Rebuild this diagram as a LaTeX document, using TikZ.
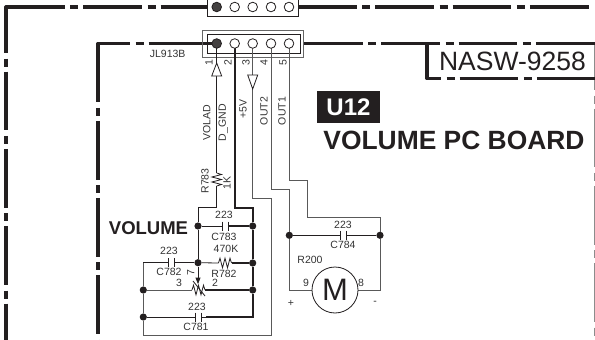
\documentclass[tikz,border=0pt]{standalone}
\usepackage{fontspec}
\setmainfont{Liberation Sans}
\definecolor{ink}{HTML}{231F20}
\tikzset{
  frameline/.style={ink, line width=3.2pt, dash pattern=on 58.7pt off 5.6pt on 8pt off 5pt},
  cornerline/.style={ink, line width=3.2pt, line join=round},
  wire/.style={ink, line width=0.8pt},
  graywire/.style={black!65, line width=1pt},
  powerwire/.style={ink, line width=2.2pt},
  pinhole/.style={circle, draw=ink, fill=white, line width=0.8pt, minimum size=9.6pt, inner sep=0pt},
  pinfull/.style={circle, draw=ink, fill=ink!85, line width=0.8pt, minimum size=9.6pt, inner sep=0pt},
  dot/.style={circle, fill=ink, minimum size=7.2pt, inner sep=0pt},
  small/.style={text=black!80, font=\fontsize{10.5}{12}\selectfont, inner sep=0pt},
  big/.style={text=ink, font=\fontsize{18.5}{20}\selectfont\bfseries, inner sep=0pt},
  reshoriz/.pic={\draw[wire] (0,0) -- (1.5,-4.8) -- (4,4.8) -- (6.5,-4.8) -- (9,4.8) -- (11.5,-4.8) -- (13,0);},
  resvert/.pic={\draw[wire] (0,0) -- (4.8,1.5) -- (-4.8,4) -- (4.8,6.5) -- (-4.8,9) -- (4.8,11.5) -- (0,13);},
  capplates/.pic={\draw[ink, line width=0.8pt] (0,-4.5) -- (0,4.5) (6,-4.5) -- (6,4.5);}
}
\begin{document}
\begin{tikzpicture}[x=1pt, y=-1pt]
\clip (0, 0) rectangle (595, 340);
\useasboundingbox (0, 0) rectangle (595, 340);
% outer frame
\draw [frameline] (6, 7) -- (208, 7);
\draw [frameline] (298, 7) -- (589, 7);
\draw [frameline, dash phase=12.7pt] (6, 7) -- (6, 340);
\draw [cornerline] (6, 12) -- (6, 7) -- (12, 7);
\draw [black!45, line width=1pt, dash pattern=on 58.7pt off 5.6pt on 8pt off 5pt, dash phase=12.7pt] (594.6, 44) -- (594.6, 340);
% inner frame
\draw [frameline, dash phase=26.7pt] (98, 43.5) -- (207, 43.5);
\draw [frameline] (304, 43.5) -- (595, 43.5);
\draw [frameline, dash phase=44.7pt] (427, 78.5) -- (595, 78.5);
\draw [frameline] (98, 43.5) -- (98, 340);
\draw [cornerline] (98, 49) -- (98, 43.5) -- (104, 43.5);
\draw [cornerline] (427, 43.5) -- (427, 78.5) -- (441, 78.5);
% top connector
\draw [draw=ink, fill=white, line width=0.8pt] (207.5, -5) rectangle (298, 16);
\node [pinfull] (top1) at (216.7, 7) {};
\foreach \n/\x in {2/234.7, 3/252.7, 4/271, 5/289}{\node [pinhole] (top\n) at (\x, 7) {};}
% JL913B connector
\draw [black!60, line width=0.9pt, fill=white] (202.5, 30) rectangle (303.3, 57);
\draw [ink, line width=0.8pt] (207.5, 34.7) rectangle (300, 53);
\draw [ink, line width=3.2pt] (202.5, 43.5) -- (212, 43.5);
\coordinate (r1top) at (216.7, 173);
\coordinate (r1bot) at (216.7, 186);
\coordinate (bend1) at (216.7, 207.7);
\coordinate (bend1b) at (198, 207.7);
\coordinate (bend2) at (234.7, 207.7);
\coordinate (bend2b) at (252.7, 207.7);
\coordinate (bend3) at (252.7, 198.5);
\coordinate (bend3b) at (271.3, 198.5);
\coordinate (loopR) at (271.3, 335.7);
\coordinate (loopL) at (143.3, 335.7);
\coordinate (corner782) at (143.3, 262.7);
\coordinate (corner781) at (252.7, 317);
\node [dot] (ja) at (198, 226) {};
\node [dot] (jb) at (198, 262.7) {};
\node [dot] (jr1) at (252.7, 226) {};
\node [dot] (jr2) at (252.7, 263) {};
\node [dot] (jr3) at (252.7, 290) {};
\node [dot] (jl1) at (143.3, 290) {};
\node [dot] (jl2) at (143.3, 317) {};
\node [dot] (jm1) at (289.3, 235.3) {};
\node [dot] (jm2) at (380, 235.3) {};
% wires from the pins
\draw [wire] (216.7, 43.5) -- (r1top);
\draw [wire] (r1bot) -- (bend1) -- (bend1b) -- (ja) -- (jb) -- (198, 281);
\draw [powerwire] (234.7, 48) -- (bend2) -- (bend2b) -- (jr1) -- (jr2) -- (jr3) -- (corner781) -- (206, 317);
\draw [graywire] (252.7, 48) -- (bend3) -- (bend3b) -- (loopR) -- (loopL) -- (jl2) -- (jl1) -- (corner782);
\draw [graywire] (271, 48) -- (271, 189) -- (289.3, 189) -- (jm1) -- (289.3, 290) -- (312, 290);
\draw [graywire] (289, 48) -- (289, 180) -- (307.7, 180) -- (307.7, 217) -- (380, 217) -- (jm2) -- (380, 290) -- (358, 290);
\node [pinfull] (pin1) at (216.7, 43.5) {};
\foreach \n/\x in {2/234.7, 3/252.7, 4/271, 5/289}{\node [pinhole] (pin\n) at (\x, 43.5) {};}
\foreach \n/\x in {1/209, 2/228, 3/246, 4/264, 5/283}{\node [small, rotate=90] (num\n) at (\x, 63) {\n};}
% arrows on the lines
\draw [wire, fill=white] (216.7, 63) -- (221.7, 76) -- (211.7, 76) -- cycle;
\draw [wire, fill=white] (252.7, 89) -- (257.7, 75) -- (247.7, 75) -- cycle;
% parts
\pic at (216.7, 173) {resvert};
\pic at (218.5, 263) {reshoriz};
\pic at (192, 290) {reshoriz};
\pic at (168.5, 262.7) {capplates};
\pic at (222, 226) {capplates};
\pic at (195.7, 317) {capplates};
\pic at (340.7, 235.3) {capplates};
\draw [wire] (ja) -- (222, 226);
\draw [powerwire] (228, 226) -- (jr1);
\draw [wire] (jb) -- (218.5, 263);
\draw [powerwire] (231.5, 263) -- (jr2);
\draw [wire] (corner782) -- (168.5, 262.7);
\draw [wire] (174.5, 262.7) -- (jb);
\draw [graywire] (jl1) -- (192, 290);
\draw [powerwire] (205, 290) -- (jr3);
\draw [wire] (jl2) -- (195.7, 317);
\draw [wire] (201.7, 317) -- (206, 317);
\draw [wire] (jm1) -- (340.7, 235.3);
\draw [wire] (346.7, 235.3) -- (jm2);
\draw [wire] (193, 281) -- (205, 296);
\draw [wire, fill=ink] (198, 283) -- (196, 278) -- (200, 278) -- cycle;
% motor
\node [circle, draw=ink, line width=0.8pt, fill=white, minimum size=46pt, inner sep=0pt, font=\fontsize{31}{33}\selectfont, text=ink] (motor) at (335, 290) {M};
% labels
\node [small] (jl) at (167.7, 54) {JL913B};
\node [small, rotate=90] (volad) at (206.7, 122.7) {VOLAD};
\node [small, rotate=90] (dgnd) at (223.3, 122.7) {D\_GND};
\node [small, rotate=90] (plus5) at (243, 109) {+5V};
\node [small, rotate=90] (out2) at (264, 111) {OUT2};
\node [small, rotate=90] (out1) at (282, 111) {OUT1};
\node [small, rotate=90] (r783) at (205, 181) {R783};
\node [small, rotate=90] (r783v) at (227, 183) {1K};
\node [small] (c783v) at (224, 215) {223};
\node [small] (c783) at (224, 237) {C783};
\node [small] (r782v) at (226, 249) {470K};
\node [small] (r782) at (224, 274) {R782};
\node [small] (c782v) at (169, 251) {223};
\node [small] (c782) at (169, 272) {C782};
\node [small, rotate=90] (p7) at (190.7, 273) {7};
\node [small] (p3) at (179, 283) {3};
\node [small] (p2) at (215, 283) {2};
\node [small] (c781v) at (197, 307) {223};
\node [small] (c781) at (196, 327) {C781};
\node [small] (c784v) at (343, 225) {223};
\node [small] (c784) at (343, 245) {C784};
\node [small] (r200) at (310, 260) {R200};
\node [small] (m9) at (306, 283) {9};
\node [small] (m8) at (361, 283) {8};
\node [small] (mplus) at (291, 303) {+};
\node [small] (mminus) at (375, 303) {-};
\node [big] (volume) at (148.5, 228) {VOLUME};
\node [fill=ink, text=white, minimum width=63pt, minimum height=32pt, inner sep=0pt, font=\fontsize{24}{26}\selectfont\bfseries] (u12) at (348.5, 107) {U12};
\node [big, font=\fontsize{26.4}{28}\selectfont\bfseries] (board) at (454, 140) {VOLUME PC BOARD};
\node [text=ink, inner sep=0pt, font=\fontsize{26.5}{28}\selectfont] (nasw) at (512.5, 61) {NASW-9258};
\end{tikzpicture}
\end{document}
